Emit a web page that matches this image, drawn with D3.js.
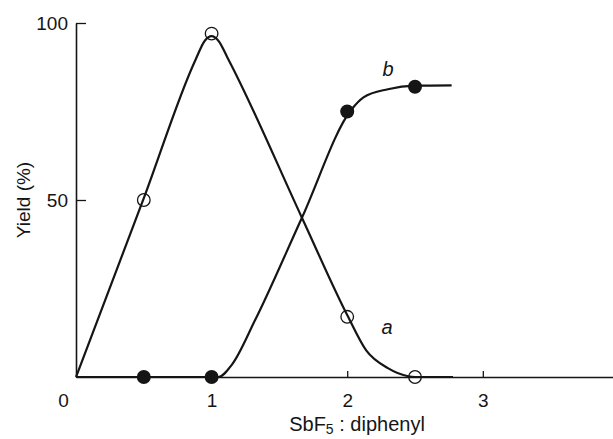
<!DOCTYPE html>
<html>
<head>
<meta charset="utf-8">
<script src="https://cdn.jsdelivr.net/npm/d3@7"></script>
<style>
  body { margin: 0; background: #fff; }
  svg { display: block; font-family: "Liberation Sans", Arial, Helvetica, sans-serif; }
</style>
</head>
<body>
<div id="chart"></div>
<script>
// measured points
var ratioA = [0.5, 1, 2, 2.5]
var yieldA = [50, 97, 17, 0]
var ratioB = [0.5, 1, 2, 2.5]
var yieldB = [0, 0, 75, 82]

// hand drawn curves through the points
var curveA = [[0, 0], [0.5, 50.5], [0.88, 89.5], [0.95, 95], [1, 96.3], [1.05, 95], [1.12, 90],
              [1.666, 45], [2, 17.5], [2.14, 7.5], [2.3, 2.5], [2.45, 0.2], [2.5, 0], [2.78, 0]]
var curveB = [[0, 0], [1.05, 0], [1.15, 3.5], [1.32, 16], [1.666, 45], [2.03, 75.5],
              [2.12, 79], [2.3, 81.3], [2.5, 82.3], [2.77, 82.4]]

var xTicks = [0, 1, 2, 3]
var yTicks = [50, 100]

var W = 613, H = 439
var ink = "#151515"

var svg = d3.select("#chart")
    .append("svg")
        .attr("width", W)
        .attr("height", H)

var x = d3.scaleLinear()
    .domain([0, 3.96])
    .range([76, 613])

var y = d3.scaleLinear()
    .domain([0, 100])
    .range([377, 23])

// x axis
var gx = svg.append("g")
    .attr("transform", "translate(0," + y(0) + ")")
    .call(d3.axisBottom(x).tickValues(xTicks).tickFormat(d3.format("d"))
        .tickSizeInner(-6).tickSizeOuter(0).tickPadding(17))
gx.select(".domain").attr("stroke", ink).attr("stroke-width", 1.6)
gx.selectAll(".tick line").attr("stroke", ink).attr("stroke-width", 1.3)
gx.selectAll(".tick text").attr("fill", ink).style("font-size", "19px")
gx.selectAll(".tick").filter(function(d) { return d === 0 })
    .call(function(t) {
        t.select("line").remove()
        t.select("text").attr("dx", -13)
    })

// y axis
var gy = svg.append("g")
    .attr("transform", "translate(" + x(0) + ",0)")
    .call(d3.axisLeft(y).tickValues(yTicks)
        .tickSizeInner(-10).tickSizeOuter(0).tickPadding(8))
gy.select(".domain").attr("stroke", ink).attr("stroke-width", 1.6)
gy.selectAll(".tick line").attr("stroke", ink).attr("stroke-width", 1.3)
gy.selectAll(".tick text").attr("fill", ink).style("font-size", "19px")

// axis titles
var xt = svg.append("text")
    .attr("x", 357)
    .attr("y", 431)
    .attr("text-anchor", "middle")
    .attr("fill", ink)
    .style("font-size", "20px")
xt.append("tspan").text("SbF")
xt.append("tspan").attr("dy", 3).style("font-size", "14px").text("5")
xt.append("tspan").attr("dy", -3).text(" : diphenyl")

svg.append("text")
    .attr("transform", "translate(30,200) rotate(-90)")
    .attr("text-anchor", "middle")
    .attr("fill", ink)
    .style("font-size", "19px")
    .text("Yield (%)")

// curves
var line = d3.line()
    .x(function(d) { return x(d[0]) })
    .y(function(d) { return y(d[1]) })
    .curve(d3.curveMonotoneX)

svg.selectAll("path.curve")
    .data([curveA, curveB])
    .join("path")
        .attr("class", "curve")
        .attr("d", line)
        .attr("fill", "none")
        .attr("stroke", ink)
        .attr("stroke-width", 2.2)
        .attr("stroke-linejoin", "round")

// points
svg.selectAll("circle.a")
    .data(ratioA)
    .join("circle")
        .attr("class", "a")
        .attr("cx", function(d) { return x(d) })
        .attr("cy", function(d, i) { return y(yieldA[i]) })
        .attr("r", 6.3)
        .attr("fill", "none")
        .attr("stroke", ink)
        .attr("stroke-width", 1.3)

svg.selectAll("circle.b")
    .data(ratioB)
    .join("circle")
        .attr("class", "b")
        .attr("cx", function(d) { return x(d) })
        .attr("cy", function(d, i) { return y(yieldB[i]) })
        .attr("r", 7)
        .attr("fill", ink)

// curve labels
svg.append("text")
    .attr("x", 387).attr("y", 334)
    .attr("text-anchor", "middle")
    .attr("fill", ink)
    .style("font-size", "20px").style("font-style", "italic")
    .text("a")

svg.append("text")
    .attr("x", 388).attr("y", 76)
    .attr("text-anchor", "middle")
    .attr("fill", ink)
    .style("font-size", "20px").style("font-style", "italic")
    .text("b")
</script>
</body>
</html>
